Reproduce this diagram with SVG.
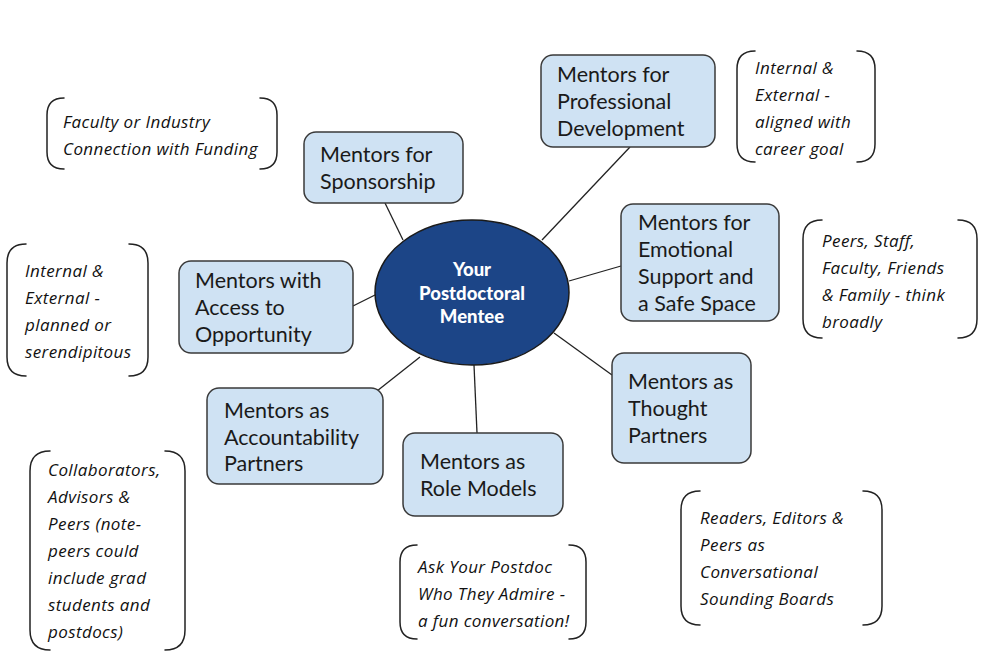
<svg xmlns="http://www.w3.org/2000/svg" width="987" height="665" viewBox="0 0 987 665">
<style>
.bg{fill:#ffffff}
.box{fill:#cfe2f3;stroke:#3a3a3a;stroke-width:1.5}
.bt{font-family:Lato,"Noto Sans",sans-serif;font-size:21.5px;fill:#1a1a1a}
.hub{fill:#1c4587;stroke:#1a1a1a;stroke-width:1.5}
.ht{font-family:Lato,"Noto Sans",sans-serif;font-size:18.5px;font-weight:900;fill:#ffffff;text-anchor:middle}
.br{fill:none;stroke:#222;stroke-width:1.5;stroke-linecap:round}
.nt{font-family:"Open Sans","DejaVu Sans",sans-serif;font-style:italic;font-size:17px;letter-spacing:0.4px;fill:#111}
.cn line{stroke:#222;stroke-width:1.3}
</style>
<rect class="bg" x="0" y="0" width="987" height="665"/>
<g id="connectors" class="cn">
<line x1="385" y1="203" x2="403" y2="240"/>
<line x1="630" y1="147" x2="542" y2="240"/>
<line x1="621" y1="266" x2="569" y2="281"/>
<line x1="353" y1="306" x2="377" y2="294"/>
<line x1="612" y1="375" x2="554" y2="333"/>
<line x1="377" y1="391" x2="420" y2="357"/>
<line x1="477" y1="433" x2="474" y2="365"/>
</g>
<g id="hub">
<ellipse class="hub" cx="472" cy="292.5" rx="97" ry="72.5"/>
<text class="ht"><tspan x="472" y="276">Your</tspan><tspan x="472" y="300">Postdoctoral</tspan><tspan x="472" y="323">Mentee</tspan></text>
</g>
<g id="n-sponsorship">
<rect class="box" x="304" y="132" width="159" height="71" rx="12"/>
<text class="bt"><tspan x="320" y="162">Mentors for</tspan><tspan x="320" y="189">Sponsorship</tspan></text>
</g>
<g id="n-professional">
<rect class="box" x="541" y="55" width="174" height="92" rx="12"/>
<text class="bt"><tspan x="557" y="82">Mentors for</tspan><tspan x="557" y="109">Professional</tspan><tspan x="557" y="136">Development</tspan></text>
</g>
<g id="n-emotional">
<rect class="box" x="621" y="204" width="158" height="117" rx="12"/>
<text class="bt"><tspan x="638" y="230">Mentors for</tspan><tspan x="638" y="257">Emotional</tspan><tspan x="638" y="284">Support and</tspan><tspan x="638" y="311">a Safe Space</tspan></text>
</g>
<g id="n-access">
<rect class="box" x="179" y="261" width="174" height="92" rx="12"/>
<text class="bt"><tspan x="195" y="288">Mentors with</tspan><tspan x="195" y="315">Access to</tspan><tspan x="195" y="342">Opportunity</tspan></text>
</g>
<g id="n-thought">
<rect class="box" x="612" y="353" width="139" height="110" rx="12"/>
<text class="bt"><tspan x="628" y="389">Mentors as</tspan><tspan x="628" y="416">Thought</tspan><tspan x="628" y="443">Partners</tspan></text>
</g>
<g id="n-accountability">
<rect class="box" x="207" y="388" width="176" height="96" rx="12"/>
<text class="bt"><tspan x="224" y="418">Mentors as</tspan><tspan x="224" y="445">Accountability</tspan><tspan x="224" y="471">Partners</tspan></text>
</g>
<g id="n-rolemodels">
<rect class="box" x="403" y="433" width="160" height="83" rx="12"/>
<text class="bt"><tspan x="420" y="469">Mentors as</tspan><tspan x="420" y="496">Role Models</tspan></text>
</g>
<g id="a-funding">
<path class="br" d="M64,98 Q47,98 47,115 L47,152 Q47,169 64,169 M260,98 Q277,98 277,115 L277,152 Q277,169 260,169"/>
<text class="nt"><tspan x="63" y="128">Faculty or Industry</tspan><tspan x="63" y="155">Connection with Funding</tspan></text>
</g>
<g id="a-access">
<path class="br" d="M26,244 Q7,244 7,263 L7,357 Q7,376 26,376 M129,244 Q148,244 148,263 L148,357 Q148,376 129,376"/>
<text class="nt"><tspan x="25" y="277">Internal &amp;</tspan><tspan x="25" y="304">External  -</tspan><tspan x="25" y="331">planned or</tspan><tspan x="25" y="358">serendipitous</tspan></text>
</g>
<g id="a-professional">
<path class="br" d="M755,51 Q737,51 737,69 L737,144 Q737,162 755,162 M857,51 Q875,51 875,69 L875,144 Q875,162 857,162"/>
<text class="nt"><tspan x="755" y="74">Internal &amp;</tspan><tspan x="755" y="101">External -</tspan><tspan x="755" y="128">aligned with</tspan><tspan x="755" y="155">career goal</tspan></text>
</g>
<g id="a-emotional">
<path class="br" d="M822,220 Q803,220 803,239 L803,319 Q803,338 822,338 M958,220 Q977,220 977,239 L977,319 Q977,338 958,338"/>
<text class="nt"><tspan x="822" y="247">Peers, Staff,</tspan><tspan x="822" y="274">Faculty, Friends</tspan><tspan x="822" y="301">&amp; Family - think</tspan><tspan x="822" y="328">broadly</tspan></text>
</g>
<g id="a-thought">
<path class="br" d="M700,491 Q681,491 681,510 L681,606 Q681,625 700,625 M863,491 Q882,491 882,510 L882,606 Q882,625 863,625"/>
<text class="nt"><tspan x="700" y="524">Readers, Editors &amp;</tspan><tspan x="700" y="551">Peers as</tspan><tspan x="700" y="578">Conversational</tspan><tspan x="700" y="605">Sounding Boards</tspan></text>
</g>
<g id="a-accountability">
<path class="br" d="M50,451 Q30,451 30,471 L30,630 Q30,650 50,650 M165,451 Q185,451 185,471 L185,630 Q185,650 165,650"/>
<text class="nt"><tspan x="48" y="476">Collaborators,</tspan><tspan x="48" y="503">Advisors &amp;</tspan><tspan x="48" y="530">Peers (note-</tspan><tspan x="48" y="557">peers could</tspan><tspan x="48" y="584">include grad</tspan><tspan x="48" y="611">students and</tspan><tspan x="48" y="638">postdocs)</tspan></text>
</g>
<g id="a-rolemodels">
<path class="br" d="M417,545 Q400,545 400,562 L400,622 Q400,639 417,639 M569,545 Q586,545 586,562 L586,622 Q586,639 569,639"/>
<text class="nt"><tspan x="418" y="573">Ask Your Postdoc</tspan><tspan x="418" y="600">Who They Admire -</tspan><tspan x="418" y="627">a fun conversation!</tspan></text>
</g>
</svg>
